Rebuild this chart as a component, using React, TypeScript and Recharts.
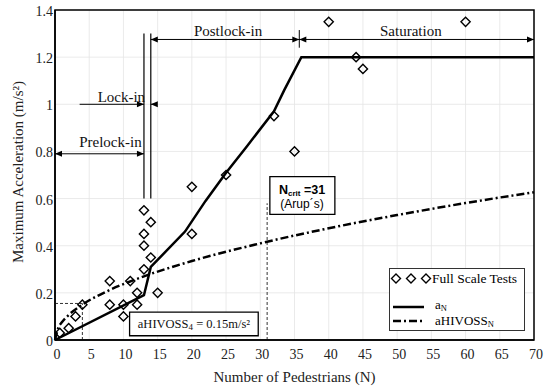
import React from 'react';
import {
  ComposedChart,
  Line,
  Scatter,
  XAxis,
  YAxis,
  CartesianGrid,
  ReferenceLine,
  ReferenceArea,
  Legend
} from 'recharts';

// Full scale test results
const testN = [0.7, 2, 3, 4, 8, 8, 10, 10, 11, 12, 12, 13, 13, 13, 13, 14, 14, 15, 20, 20, 25, 32, 35, 40, 44, 45, 60];
const testA = [0.03, 0.05, 0.1, 0.15, 0.25, 0.15, 0.15, 0.1, 0.25, 0.2, 0.15, 0.3, 0.4, 0.45, 0.55, 0.5, 0.35, 0.2, 0.65, 0.45, 0.7, 0.95, 0.8, 1.35, 1.2, 1.15, 1.35];

// a_N curve
const aNN = [0, 13, 14, 19, 22, 25, 28, 32, 33.5, 36, 70];
const aNA = [0, 0.19, 0.31, 0.46, 0.59, 0.71, 0.82, 0.97, 1.06, 1.2, 1.2];

// aHIVOSS_N curve
const hivN = [0, 0.5, 1, 2, 4, 8, 13, 20, 30, 40, 50, 60, 70];
const hivA = [0, 0.053, 0.075, 0.106, 0.15, 0.212, 0.27, 0.335, 0.41, 0.474, 0.53, 0.581, 0.627];

const xTicks = [0, 5, 10, 15, 20, 25, 30, 35, 40, 45, 50, 55, 60, 65, 70];
const yTicks = [0, 0.2, 0.4, 0.6, 0.8, 1, 1.2, 1.4];

// region markers
const arrowHeads = [
  { n: 0, a: 0.79, dir: 'left' },
  { n: 13, a: 0.79, dir: 'right' },
  { n: 13, a: 1.0, dir: 'right' },
  { n: 14, a: 1.0, dir: 'left' },
  { n: 14, a: 1.275, dir: 'left' },
  { n: 35.7, a: 1.275, dir: 'right' },
  { n: 35.7, a: 1.275, dir: 'left' },
  { n: 70, a: 1.275, dir: 'right' }
];

const regionText = [
  { n: 8.1, a: 0.84, text: 'Prelock-in' },
  { n: 9.7, a: 1.03, text: 'Lock-in' },
  { n: 25.3, a: 1.31, text: 'Postlock-in' },
  { n: 52, a: 1.31, text: 'Saturation' },
  { n: 20.3, a: 0.068, text: 'hivoss' },
  { n: 36.1, a: 0.613, text: 'ncrit' }
];

const tests = testN.map((n, i) => ({ n, a: testA[i] }));
const aN = aNN.map((n, i) => ({ n, a: aNA[i] }));
const hiv = hivN.map((n, i) => ({ n, a: hivA[i] }));

const SERIF = '"Liberation Serif", "Times New Roman", serif';
const SANS = '"Liberation Sans", Arial, sans-serif';

const Diamond = (p: any) => {
  const { cx, cy } = p;
  const s = 4.6;
  return (
    <path
      d={`M${cx},${cy - s} L${cx + s},${cy} L${cx},${cy + s} L${cx - s},${cy} Z`}
      fill="none"
      stroke="#000"
      strokeWidth={1.4}
    />
  );
};

const ArrowHead = (p: any) => {
  const { cx, cy, payload } = p;
  const d = payload.dir === 'left' ? 1 : -1;
  return <path d={`M${cx},${cy} L${cx + d * 7},${cy - 3} L${cx + d * 7},${cy + 3} Z`} fill="#000" />;
};

const RegionLabel = (p: any) => {
  const { cx, cy, payload } = p;
  if (payload.text === 'hivoss') {
    return (
      <text x={cx} y={cy} textAnchor="middle" dominantBaseline="central" fontFamily={SERIF} fontSize={12.5} fill="#111">
        aHIVOSS<tspan fontSize={9} dy={3}>4</tspan>
        <tspan dy={-3}> = 0.15m/s²</tspan>
      </text>
    );
  }
  if (payload.text === 'ncrit') {
    return (
      <g fontFamily={SANS} fill="#000">
        <text x={cx} y={cy - 6} textAnchor="middle" dominantBaseline="central" fontSize={12.5} fontWeight="bold">
          N<tspan fontSize={8} dy={3}>crit</tspan>
          <tspan dy={-3}> =31</tspan>
        </text>
        <text x={cx} y={cy + 8} textAnchor="middle" dominantBaseline="central" fontSize={12}>
          (Arup´s)
        </text>
      </g>
    );
  }
  return (
    <text x={cx} y={cy} textAnchor="middle" dominantBaseline="central" fontFamily={SERIF} fontSize={15} fill="#111">
      {payload.text}
    </text>
  );
};

const LegendBox = () => (
  <div
    style={{
      width: 134,
      height: 61,
      border: '1.3px solid #333',
      background: '#fff',
      fontFamily: SERIF,
      fontSize: 13.5,
      color: '#111',
      boxSizing: 'content-box'
    }}
  >
    <svg width={134} height={61} style={{ display: 'block' }}>
      {[6, 21, 36].map((x) => (
        <path key={x} d={`M${x},5 L${x + 4.5},9.5 L${x},14 L${x - 4.5},9.5 Z`} fill="none" stroke="#000" strokeWidth={1.4} />
      ))}
      <text x={42} y={14} fontSize={13.5}>Full Scale Tests</text>
      <line x1={3} x2={34} y1={38} y2={38} stroke="#000" strokeWidth={2.5} />
      <text x={45} y={40} fontSize={13}>
        a<tspan fontSize={8.5} dy={2}>N</tspan>
      </text>
      <line x1={3} x2={32} y1={52} y2={52} stroke="#000" strokeWidth={2.5} strokeDasharray="8 3 2 3" />
      <text x={45} y={56} fontSize={13}>
        aHIVOSS<tspan fontSize={8.5} dy={2}>N</tspan>
      </text>
    </svg>
  </div>
);

const App: React.FC = () => {
  return (
    <div style={{ position: 'absolute', left: 0, top: 0, background: '#fff' }}>
      <ComposedChart width={550} height={389} margin={{ top: 10, right: 16, bottom: 0, left: 0 }}>
        <CartesianGrid stroke="#e4e4e4" strokeWidth={0.8} />
        <XAxis
          type="number"
          dataKey="n"
          domain={[0, 70]}
          ticks={xTicks}
          height={49}
          tickLine={false}
          tickSize={0}
          tickMargin={9}
          axisLine={{ stroke: '#000', strokeWidth: 1.5 }}
          tick={{ fontFamily: SERIF, fontSize: 14, fill: '#222', dx: 2 }}
          interval={0}
          label={{
            content: (props: any) => {
              const vb = props.viewBox || { x: 55, y: 340, width: 479 };
              return (
                <text x={vb.x + vb.width / 2} y={vb.y + 41.5} textAnchor="middle" fontFamily={SERIF} fontSize={15} fill="#222">
                  Number of Pedestrians  (N)
                </text>
              );
            }
          }}
        />
        <YAxis
          type="number"
          domain={[0, 1.4]}
          ticks={yTicks}
          width={55}
          tickLine={false}
          tickSize={0}
          tickMargin={2}
          axisLine={{ stroke: '#000', strokeWidth: 1.5 }}
          tick={{ fontFamily: SERIF, fontSize: 14, fill: '#222', dy: 1 }}
          interval={0}
          label={{
            content: (props: any) => {
              const vb = props.viewBox || { x: 0, y: 10, height: 330 };
              const cx = vb.x + 18;
              const cy = vb.y + vb.height / 2 - 3;
              return (
                <text x={cx} y={cy} textAnchor="middle" dominantBaseline="central" transform={`rotate(-90 ${cx} ${cy})`} fontFamily={SERIF} fontSize={15} fill="#222">
                  Maximum Acceleration (m/s²)
                </text>
              );
            }
          }}
        />

        {/* plot frame */}
        <ReferenceArea x1={0} x2={70} y1={0} y2={1.4} fill="none" stroke="#000" strokeWidth={1.5} fillOpacity={0} />

        {/* dashed guides */}
        <ReferenceLine segment={[{ x: 0, y: 0.155 }, { x: 4, y: 0.155 }]} stroke="#333" strokeDasharray="3 2" strokeWidth={1} />
        <ReferenceLine segment={[{ x: 4, y: 0 }, { x: 4, y: 0.155 }]} stroke="#333" strokeDasharray="3 2" strokeWidth={1} />
        <ReferenceLine segment={[{ x: 31, y: 0 }, { x: 31, y: 0.58 }]} stroke="#333" strokeDasharray="3 2" strokeWidth={1} />

        {/* region arrows */}
        <ReferenceLine segment={[{ x: 0, y: 0.79 }, { x: 13, y: 0.79 }]} stroke="#000" strokeWidth={1} />
        <ReferenceLine segment={[{ x: 3.6, y: 1 }, { x: 13, y: 1 }]} stroke="#000" strokeWidth={1} />
        <ReferenceLine segment={[{ x: 14, y: 1 }, { x: 14.7, y: 1 }]} stroke="#000" strokeWidth={1} />
        <ReferenceLine segment={[{ x: 13, y: 0.6 }, { x: 13, y: 1.3 }]} stroke="#000" strokeWidth={1.2} />
        <ReferenceLine segment={[{ x: 14, y: 0.6 }, { x: 14, y: 1.3 }]} stroke="#000" strokeWidth={1.2} />
        <ReferenceLine segment={[{ x: 14, y: 1.275 }, { x: 70, y: 1.275 }]} stroke="#000" strokeWidth={1} />
        <ReferenceLine segment={[{ x: 35.7, y: 1.24 }, { x: 35.7, y: 1.315 }]} stroke="#000" strokeWidth={1} />

        {/* text boxes */}
        <ReferenceArea x1={10.9} x2={29.7} y1={0.018} y2={0.118} fill="#fff" fillOpacity={1} stroke="#000" strokeWidth={1.3} />
        <ReferenceArea x1={31.4} x2={40.9} y1={0.533} y2={0.693} fill="#fff" fillOpacity={1} stroke="#000" strokeWidth={1.3} />

        <Line data={hiv} dataKey="a" type="monotone" stroke="#000" strokeWidth={2.5} strokeDasharray="8 3 2 3" dot={false} isAnimationActive={false} />
        <Line data={aN} dataKey="a" type="linear" stroke="#000" strokeWidth={2.5} dot={false} isAnimationActive={false} />
        <Scatter data={tests} dataKey="a" shape={Diamond} isAnimationActive={false} />
        <Scatter data={arrowHeads} dataKey="a" shape={ArrowHead} isAnimationActive={false} legendType="none" />
        <Scatter data={regionText} dataKey="a" shape={RegionLabel} isAnimationActive={false} legendType="none" />

        <Legend
          layout="vertical"
          align="center"
          verticalAlign="middle"
          content={() => <LegendBox />}
          wrapperStyle={{ left: 389, top: 268, width: 137, height: 64 }}
        />
      </ComposedChart>
    </div>
  );
};

export default App;
